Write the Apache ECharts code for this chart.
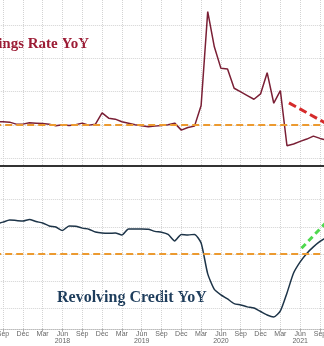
<!DOCTYPE html>
<html><head><meta charset="utf-8">
<script src="https://cdn.jsdelivr.net/npm/echarts@6/dist/echarts.min.js"></script>
<style>html,body{margin:0;padding:0;background:#fff}#c{width:324px;height:346px}</style>
</head><body><div id="c"></div>
<script>
const months = [
 '2017-08','2017-09','2017-10','2017-11','2017-12',
 '2018-01','2018-02','2018-03','2018-04','2018-05','2018-06','2018-07','2018-08','2018-09','2018-10','2018-11','2018-12',
 '2019-01','2019-02','2019-03','2019-04','2019-05','2019-06','2019-07','2019-08','2019-09','2019-10','2019-11','2019-12',
 '2020-01','2020-02','2020-03','2020-04','2020-05','2020-06','2020-07','2020-08','2020-09','2020-10','2020-11','2020-12',
 '2021-01','2021-02','2021-03','2021-04','2021-05','2021-06','2021-07','2021-08','2021-09','2021-10'];
const savingsYoY = [
 1.10,1.09,1.08,1.02,1.02,
 1.06,1.05,1.04,1.02,0.97,1.00,0.98,1.00,1.05,0.99,1.02,1.36,
 1.20,1.17,1.09,1.05,1.00,0.97,0.94,0.96,0.98,1.00,1.05,0.84,
 0.92,0.96,1.58,4.41,3.35,2.70,2.68,2.10,1.99,1.88,1.77,1.93,
 2.57,1.65,2.03,0.37,0.42,0.50,0.57,0.66,0.59,0.54];
const revolvingYoY = [
 3.10,3.17,3.25,3.23,3.21,
 3.27,3.19,3.14,3.03,2.99,2.86,3.03,3.02,2.95,2.91,2.81,2.77,
 2.76,2.77,2.70,2.92,2.92,2.92,2.91,2.83,2.80,2.72,2.48,2.72,
 2.70,2.72,2.40,1.27,0.70,0.50,0.35,0.18,0.13,0.06,0.02,-0.11,
 -0.24,-0.31,-0.09,0.57,1.30,1.71,2.02,2.26,2.46,2.62];
const savingsAvg = 0.99;
const revolvingAvg = 2.0;
const savingsTrend = [[46.3,1.66],[52.5,0.98]];
const revolvingTrend = [[48.2,2.21],[52.5,3.30]];
const monthNames = ['Jun','Sep','Dec','Mar'];
const titles = ['Savings Rate YoY','Revolving Credit YoY'];

// month index: Jun 2017 = 0
function idx(m){const [y,mo]=m.split('-').map(Number);return (y-2017)*12+(mo-6);}
const sPts = months.map((m,i)=>[idx(m),savingsYoY[i]]);
const rPts = months.map((m,i)=>[idx(m),revolvingYoY[i]]);

const L=-16.8, R=-15.8;
const gb={left:L,right:R,outerBoundsMode:'none',containLabel:false};
const grid=[
 Object.assign({top:-8,height:166},gb),
 Object.assign({top:199.5,height:136.25},gb),
 Object.assign({top:0,height:329},gb)
];
const xBase={type:'value',min:0,max:54,interval:3,axisLabel:{show:false},axisTick:{show:false},splitLine:{show:false},axisLine:{show:false}};
const gridLine={show:true,lineStyle:{color:'#d3d3d3',type:'dotted',width:1}};
const option={
 animation:false,
 grid:grid,
 xAxis:[
  Object.assign({},xBase,{gridIndex:0,offset:8,axisLine:{show:true,onZero:false,lineStyle:{color:'#333',width:2}}}),
  Object.assign({},xBase,{gridIndex:1,offset:-7,
    axisLine:{show:true,onZero:false,lineStyle:{color:'#bbb',width:1,type:'dotted'}},
    axisTick:{show:true,length:3,lineStyle:{color:'#aaa'}},
    axisLabel:{show:true,margin:2,fontSize:7,lineHeight:7,color:'#666',fontFamily:'Liberation Sans',
      formatter:v=>{const n=monthNames[(v/3)%4];return n==='Jun'?n+'\n'+(2017+v/12):n;}}}),
  Object.assign({},xBase,{gridIndex:2,splitLine:gridLine})
 ],
 yAxis:[
  {type:'value',gridIndex:0,min:0,max:5,interval:1,axisLabel:{show:false},axisLine:{show:false},axisTick:{show:false},splitLine:gridLine},
  {type:'value',gridIndex:1,min:-1,max:4,interval:1,axisLabel:{show:false},axisLine:{show:false},axisTick:{show:false},splitLine:Object.assign({showMinLine:false},gridLine)},
  {type:'value',gridIndex:2,show:false}
 ],
 series:[
  {type:'line',xAxisIndex:0,yAxisIndex:0,data:sPts,symbol:'none',lineStyle:{color:'#7a1f35',width:1.5},
   markLine:{silent:true,symbol:'none',label:{show:false},lineStyle:{color:'#ec9a30',type:[7,4],width:2},data:[{yAxis:savingsAvg}]}},
  {type:'line',xAxisIndex:0,yAxisIndex:0,data:savingsTrend,symbol:'none',lineStyle:{color:'#d52b2b',width:3,type:[8,4]}},
  {type:'line',xAxisIndex:1,yAxisIndex:1,data:rPts,symbol:'none',smooth:0.2,lineStyle:{color:'#1d3448',width:1.5},
   markLine:{silent:true,symbol:'none',label:{show:false},lineStyle:{color:'#ec9a30',type:[7,4],width:2},data:[{yAxis:revolvingAvg}]}},
  {type:'line',xAxisIndex:1,yAxisIndex:1,data:revolvingTrend,symbol:'none',lineStyle:{color:'#4fd84f',width:3,type:[6,4]}}
 ],
 graphic:[
  {type:'text',x:89,y:44,style:{text:titles[0],align:'right',verticalAlign:'middle',fill:'#9c1c35',font:'bold 15px "Liberation Serif"'}},
  {type:'text',x:57,y:298,style:{text:titles[1],align:'left',verticalAlign:'middle',fill:'#1e3d5c',font:'bold 16px "Liberation Serif"'}}
 ]
};
const chart=echarts.init(document.getElementById('c'),null,{renderer:'canvas'});
chart.setOption(option);
</script></body></html>
